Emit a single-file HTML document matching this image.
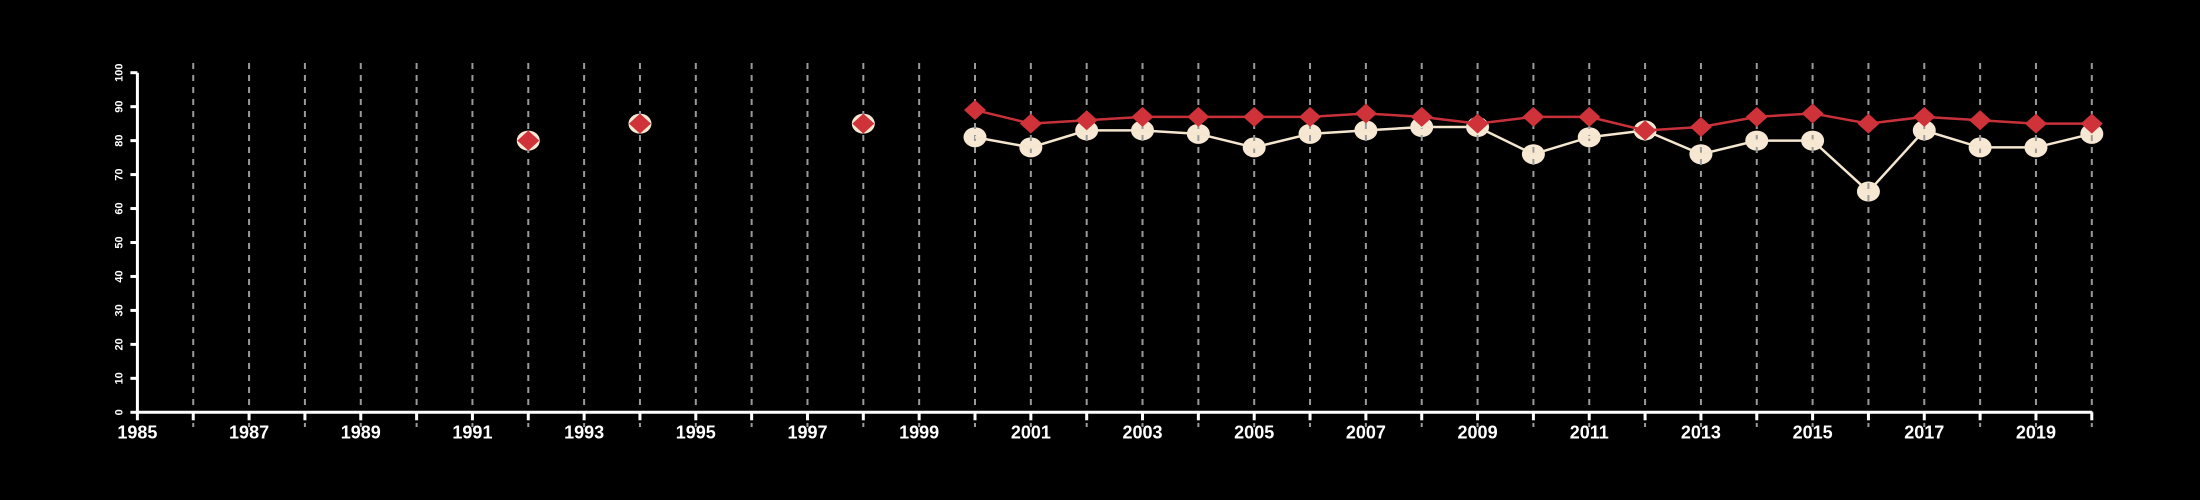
<!DOCTYPE html>
<html><head><meta charset="utf-8"><style>
html,body{margin:0;padding:0;background:#000;}
svg{display:block;font-family:"Liberation Sans",sans-serif;}
</style></head><body>
<svg id="chart" width="2200" height="500" viewBox="0 0 2200 500">
<g id="circles"></g>
<g id="grid"></g>
<g id="axes"></g>
<g id="lines"></g>
<g id="diamonds"></g>
</svg>
<script>
const years = [1992,1994,1998,2000,2001,2002,2003,2004,2005,2006,2007,2008,2009,2010,2011,2012,2013,2014,2015,2016,2017,2018,2019,2020];
const redValues = [80,85,85,89,85,86,87,87,87,87,88,87,85,87,87,83,84,87,88,85,87,86,85,85];
const creamValues = [80,85,85,81,78,83,83,82,78,82,83,84,84,76,81,83,76,80,80,65,83,78,78,82];
const yTicks = [0,10,20,30,40,50,60,70,80,90,100];
const xLabelYears = [1985,1987,1989,1991,1993,1995,1997,1999,2001,2003,2005,2007,2009,2011,2013,2015,2017,2019];
const lineStartYear = 2000;

const NS='http://www.w3.org/2000/svg';
const x = yr => 137.4 + (yr-1985)*55.84;
const y = v => 412.3 - v*3.396;
function mk(tag, attrs, parent){const e=document.createElementNS(NS,tag);for(const k in attrs)e.setAttribute(k,attrs[k]);parent.appendChild(e);return e;}
const grid=document.getElementById('grid'), axes=document.getElementById('axes'), lines=document.getElementById('lines'), circ=document.getElementById('circles'), dia=document.getElementById('diamonds');

for(let yr=1986; yr<=2020; yr++){
  const l=mk('line',{x1:x(yr),x2:x(yr),y1:63,y2:427,stroke:'#9a9a9a','stroke-width':2,'stroke-dasharray':'6,6'},grid);
  
  
}
const xa=mk('line',{x1:x(1985),x2:x(2020),y1:y(0),y2:y(0),stroke:'#fff','stroke-width':3},axes);


const ya=mk('line',{x1:x(1985),x2:x(1985),y1:y(0),y2:y(100),stroke:'#fff','stroke-width':3},axes);


for(let yr=1985; yr<=2020; yr++){
  const t=mk('line',{x1:x(yr),x2:x(yr),y1:y(0),y2:y(0)+8,stroke:'#fff','stroke-width':3},axes);
  
  
}
xLabelYears.forEach(yr=>{
  const t=mk('text',{x:x(yr),y:y(0)+26,fill:'#fff','font-size':18,'font-weight':'bold','text-anchor':'middle'},axes);
  t.textContent=yr;
  
  
});
yTicks.forEach(v=>{
  const t=mk('line',{x1:x(1985)-7,x2:x(1985),y1:y(v),y2:y(v),stroke:'#fff','stroke-width':3},axes);
  
  
  const tx=x(1985)-15, ty=y(v);
  const lb=mk('text',{x:tx,y:ty,fill:'#fff','font-size':11,'font-weight':'bold','text-anchor':'middle',transform:`rotate(-90 ${tx} ${ty})`},axes);
  lb.textContent=v;
  
  
});
function path(vals,color,name){
  const pts=years.map((yr,i)=>[yr,vals[i]]).filter(p=>p[0]>=lineStartYear).map(p=>x(p[0])+','+y(p[1])).join(' ');
  const pl=mk('polyline',{points:pts,fill:'none',stroke:color,'stroke-width':2.5},lines);
  
  
}
path(creamValues,'#f5e6d0','cream-series-line');
path(redValues,'#c8313a','red-series-line');
years.forEach((yr,i)=>{
  const c=mk('ellipse',{cx:x(yr),cy:y(creamValues[i]),rx:11.5,ry:10,fill:'#f7e8d3'},circ);
  
  
  const cx=x(yr), cy=y(redValues[i]), sx=11, sy=10;
  const d=mk('polygon',{points:`${cx},${cy-sy} ${cx+sx},${cy} ${cx},${cy+sy} ${cx-sx},${cy}`,fill:'#cf3339'},dia);
  
  
});
</script>
</body></html>
